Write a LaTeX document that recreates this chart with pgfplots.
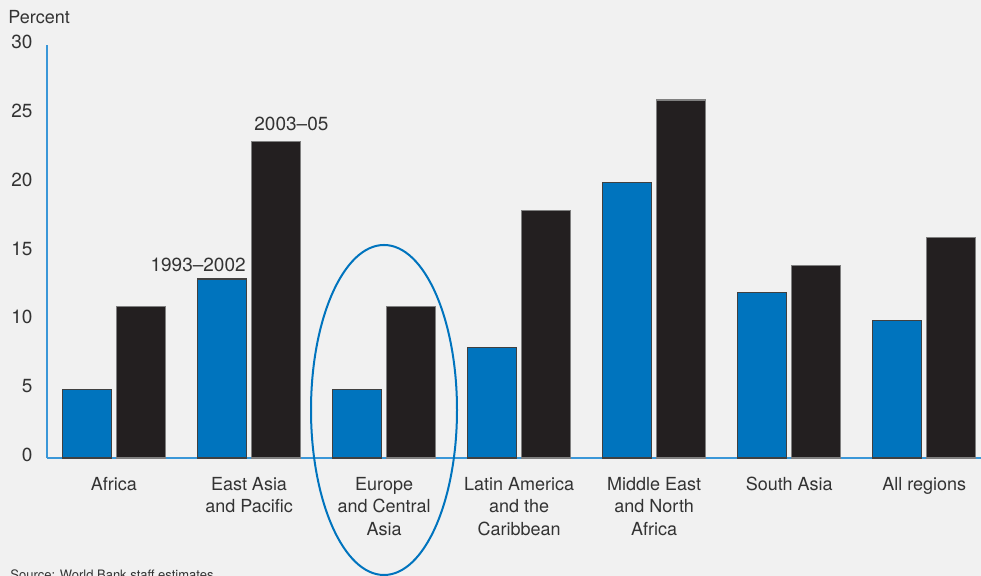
\documentclass[border=0pt]{standalone}
\usepackage{fontspec}
\setmainfont{TeX Gyre Heros}
\usepackage{pgfplots}
\usepackage{pgfplotstable}
\pgfplotsset{compat=1.18}
\definecolor{barblue}{HTML}{0074BE}
\definecolor{barblack}{HTML}{231F20}
\definecolor{axblue}{HTML}{3A97D8}
\definecolor{txt}{HTML}{333333}
\definecolor{bg}{HTML}{F1F1F1}
\pgfplotstableread{
x y
0 5
1 13
2 5
3 8
4 20
5 12
6 10
}\early
\pgfplotstableread{
x y
0 11
1 23
2 11
3 18
4 26
5 14
6 16
}\late
\begin{document}
\begin{tikzpicture}
\fill[bg] (0,0) rectangle (490.5pt,288pt);
\useasboundingbox (0,0) rectangle (490.5pt,288pt);
\begin{axis}[
  at={(23.5pt,59pt)}, anchor=south west,
  scale only axis, width=467pt, height=206.5pt,
  xmin=-0.496, xmax=6.42, ymin=0, ymax=30,
  axis lines*=left,
  axis line style={axblue, line width=0.8pt},
  clip=false,
  ybar=2.5pt, bar width=24.5pt,
  ytick={0,5,...,30},
  major tick length=0pt,
  /pgf/number format/assume math mode=true,
  yticklabel style={font=\fontsize{9.5}{11}\selectfont, text=txt, xshift=-3.7pt, yshift=1.5pt},
  xtick={0,...,6},
  xticklabels={Africa, {East Asia\\and Pacific}, {Europe\\and Central\\Asia}, {Latin America\\and the\\Caribbean}, {Middle East\\and North\\Africa}, South Asia, All regions},
  xticklabel style={align=center, font=\fontsize{9}{11.25}\selectfont, text=txt, yshift=-6pt},
]
\addplot[fill=barblue, draw=black!75, line width=0.6pt] table[x=x,y=y] {\early};
\addplot[fill=barblack, draw=black!50, line width=0.6pt] table[x=x,y=y] {\late};
\node[anchor=south east, inner sep=0pt, font=\fontsize{9.5}{11}\selectfont, text=txt] at (axis cs:0.978,13) [yshift=3.3pt] {1993--2002};
\node[anchor=south west, inner sep=0pt, font=\fontsize{9.5}{11}\selectfont, text=txt] at (axis cs:1.037,23) [yshift=5pt] {2003--05};
\end{axis}
\node[anchor=west, inner sep=0pt, font=\fontsize{9}{11}\selectfont, text=txt] at (4pt,279.5pt) {Percent};
\draw[barblue, line width=1pt] (192pt,83pt) ellipse [x radius=36.5pt, y radius=82.5pt];
\node[anchor=north west, inner sep=0pt, font=\fontsize{6.5}{8}\selectfont, text=txt] at (5pt,3.2pt) {Source: World Bank staff estimates.};
\end{tikzpicture}
\end{document}
